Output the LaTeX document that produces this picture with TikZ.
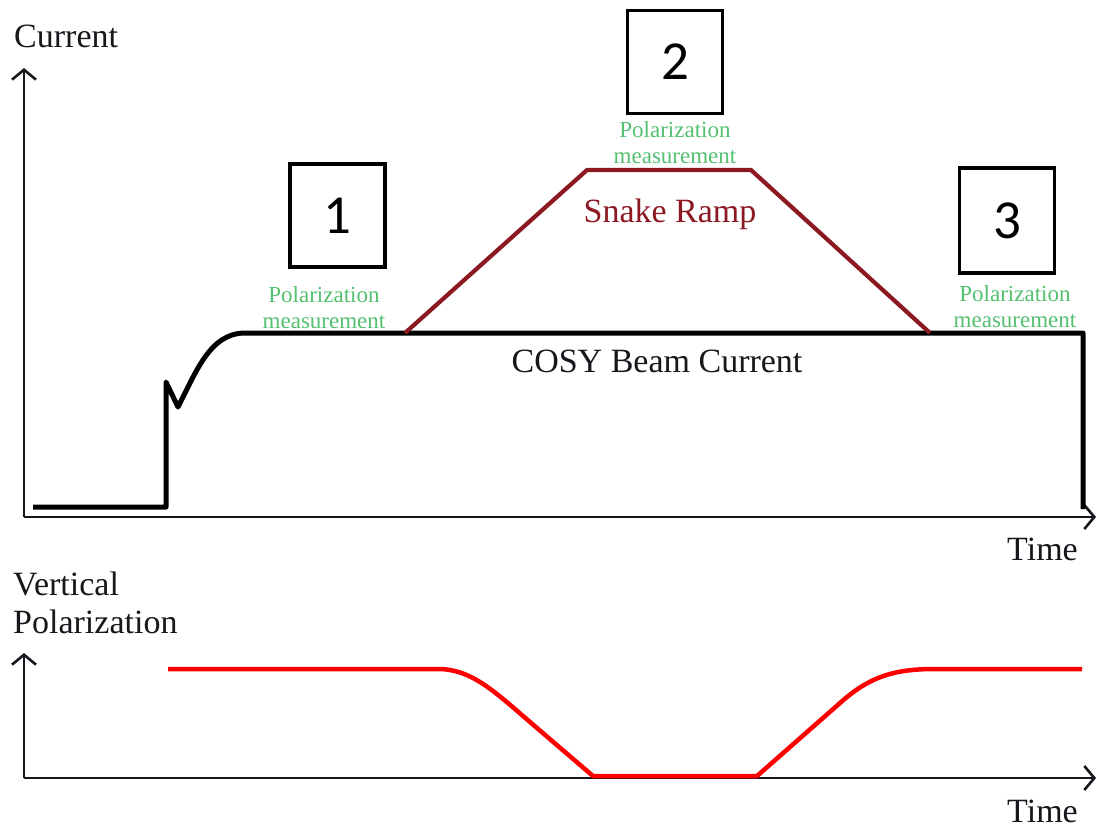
\documentclass[tikz,border=0pt]{standalone}
\usepackage{fontspec}
\setmainfont{Liberation Serif}
\newfontfamily\digitfont{Carlito}
\usetikzlibrary{arrows.meta}
\definecolor{ramp}{RGB}{140,24,34}
\definecolor{polgreen}{RGB}{84,192,112}
\definecolor{polred}{RGB}{255,0,0}
\definecolor{ink}{RGB}{22,22,28}
\tikzset{
  axis/.style={line width=2.6pt, draw=ink, -{Straight Barb[length=10pt,width=24pt,line width=2.6pt]}},
  beam/.style={line width=5pt, draw=black, line join=round},
  snake/.style={line width=4.2pt, draw=ramp},
  polcurve/.style={line width=4.5pt, draw=polred},
  label/.style={font=\fontsize{34}{40}\selectfont, text=ink, inner sep=0pt},
  meas/.style={font=\fontsize{23}{26}\selectfont, text=polgreen, align=center, inner sep=0pt},
  numbox/.style={draw=black, line width=3.5pt, minimum width=95pt, minimum height=103pt,
    font=\digitfont\fontsize{55}{60}\selectfont, inner sep=0pt}
}
\begin{document}
\begin{tikzpicture}[x=1pt,y=-1pt]
\useasboundingbox (0,0) rectangle (1097,828);

% ---- upper panel: beam current ----
\coordinate (o1) at (24,517);
\coordinate (ytop1) at (24,68);
\coordinate (xend1) at (1096,517);
\draw[axis] (o1) -- (ytop1);
\draw[axis] (o1) -- (xend1);
\node[label, anchor=base west] (cur) at (14,47) {Current};
\node[label, anchor=base west] (time1) at (1007,560) {Time};

% COSY beam current
\draw[beam] (33,507) -- (166,507) -- (166,382) -- (178,407)
  .. controls (196,372) and (210,333) .. (245,333) -- (1083,333) -- (1083,509);
\node[label, anchor=base] (cosy) at (657,372) {COSY Beam Current};

% snake ramp
\coordinate (r0) at (405,333);
\coordinate (r1) at (587,170);
\coordinate (r2) at (751,170);
\coordinate (r3) at (930,333);
\draw[snake, line join=miter] (r0) -- (r1) -- (r2) -- (r3);
\node[label, text=ramp, anchor=base] (snk) at (670,222) {Snake Ramp};

% measurement markers
\node[numbox] (b1) at (337.5,215.5) {1};
\node[numbox] (b2) at (675,62) {2};
\node[numbox, minimum height=105pt] (b3) at (1007,220.5) {3};
\node[meas] (m1) at (324,308) {Polarization\\measurement};
\node[meas] (m2) at (675,143) {Polarization\\measurement};
\node[meas] (m3) at (1015,307) {Polarization\\measurement};

% ---- lower panel: vertical polarization ----
\coordinate (o2) at (24,778);
\coordinate (ytop2) at (24,653);
\coordinate (xend2) at (1096,778);
\draw[axis] (o2) -- (ytop2);
\draw[axis] (o2) -- (xend2);
\node[label, anchor=base west] (vp) at (13,595) {Vertical};
\node[label, anchor=base west] (vp2) at (13,633) {Polarization};
\node[label, anchor=base west] (time2) at (1007,822) {Time};

\draw[polcurve, line join=round] (168,669) -- (440,669)
  .. controls (472,670) and (494,691) .. (530,722)
  -- (593,776) -- (757,776) -- (840,703)
  .. controls (870,676) and (895,669) .. (935,669) -- (1082,669);
\end{tikzpicture}
\end{document}
